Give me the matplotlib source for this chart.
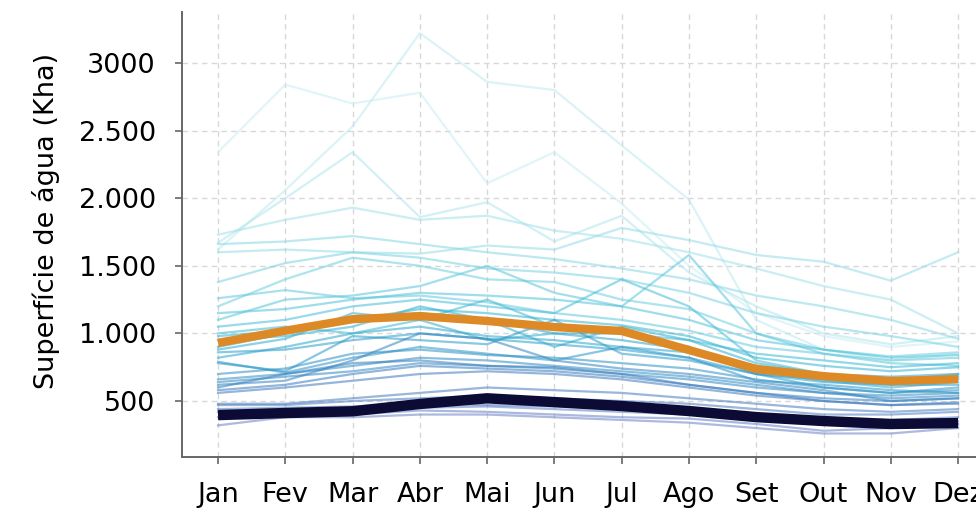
import matplotlib
matplotlib.use("Agg")
import matplotlib.pyplot as plt
from matplotlib.colors import LinearSegmentedColormap
import numpy as np

# --- DATA (Kha) ---
months = ["Jan", "Fev", "Mar", "Abr", "Mai", "Jun", "Jul", "Ago", "Set", "Out", "Nov", "Dez"]

# thin yearly lines, roughly ordered from the wettest/oldest to the driest/latest
years = [
    [2340, 2840, 2700, 2780, 2110, 2340, 1960, 1500, 1150, 980, 900, 940],
    [1620, 2060, 2530, 3220, 2860, 2800, 2390, 1990, 1100, 880, 800, 850],
    [1670, 2000, 2340, 1860, 1970, 1680, 1870, 1450, 1200, 1000, 920, 980],
    [1730, 1840, 1930, 1840, 1870, 1760, 1700, 1600, 1480, 1350, 1250, 1000],
    [1600, 1620, 1600, 1590, 1650, 1620, 1780, 1690, 1580, 1530, 1390, 1600],
    [1660, 1680, 1720, 1660, 1600, 1550, 1480, 1400, 1280, 1200, 1100, 960],
    [1380, 1520, 1600, 1560, 1480, 1450, 1400, 1300, 1150, 1050, 980, 900],
    [1200, 1400, 1560, 1500, 1400, 1380, 1250, 1180, 1000, 880, 830, 860],
    [1260, 1320, 1260, 1280, 1230, 1150, 1100, 1020, 900, 850, 800, 820],
    [1100, 1250, 1280, 1350, 1500, 1300, 1200, 1580, 1000, 850, 780, 760],
    [1150, 1180, 1250, 1300, 1280, 1250, 1200, 1100, 950, 880, 820, 840],
    [1050, 1100, 1200, 1250, 1200, 1150, 1400, 1200, 800, 700, 650, 700],
    [1000, 1050, 1000, 1100, 1250, 1050, 1000, 950, 850, 800, 750, 780],
    [980, 1020, 1100, 1180, 1150, 1100, 1060, 980, 820, 760, 720, 750],
    [950, 980, 1050, 1200, 1100, 900, 1050, 950, 780, 700, 650, 680],
    [880, 960, 1150, 1100, 950, 1000, 1000, 900, 720, 650, 600, 640],
    [820, 900, 1000, 1050, 980, 950, 900, 860, 760, 700, 680, 700],
    [900, 1000, 1100, 1150, 1100, 1000, 950, 880, 700, 640, 620, 660],
    [860, 880, 950, 1000, 960, 920, 880, 820, 700, 660, 620, 620],
    [780, 720, 980, 950, 920, 1100, 850, 800, 700, 600, 560, 600],
    [790, 710, 820, 900, 850, 800, 900, 820, 650, 620, 580, 560],
    [700, 740, 850, 880, 840, 820, 780, 740, 660, 600, 560, 580],
    [660, 700, 760, 820, 800, 760, 720, 680, 620, 560, 540, 560],
    [640, 680, 720, 780, 760, 740, 700, 660, 600, 560, 520, 540],
    [620, 650, 800, 1000, 960, 800, 740, 700, 640, 580, 500, 520],
    [600, 700, 780, 800, 760, 750, 700, 620, 560, 520, 500, 520],
    [580, 620, 700, 760, 740, 720, 680, 620, 560, 500, 470, 490],
    [560, 600, 650, 700, 720, 700, 660, 600, 540, 500, 470, 480],
    [480, 480, 520, 560, 600, 580, 560, 520, 480, 440, 420, 440],
    [470, 470, 500, 520, 540, 520, 500, 480, 440, 400, 400, 420],
    [440, 450, 460, 480, 470, 460, 440, 420, 400, 370, 360, 380],
    [420, 430, 450, 450, 460, 440, 420, 400, 370, 330, 320, 350],
    [380, 420, 400, 430, 420, 400, 380, 370, 330, 280, 300, 330],
    [320, 380, 380, 400, 400, 380, 360, 340, 300, 260, 260, 300],
]

media = [930, 1020, 1105, 1128, 1092, 1047, 1018, 877, 737, 684, 648, 662]
ultimo_ano = [396, 411, 424, 478, 520, 492, 463, 426, 381, 352, 330, 337]

y_ticks = [500, 1000, 1500, 2000, 2500, 3000]
y_tick_labels = ["500", "1.000", "1.500", "2.000", "2.500", "3000"]

# --- STYLE ---
plt.rcParams["font.family"] = ["DejaVu Sans"]
cmap = LinearSegmentedColormap.from_list(
    "agua", ["#c9eef3", "#6fd0e0", "#2fb4d2", "#2a96c8", "#3a78bc", "#6a80c6"])

fig = plt.figure(figsize=(9.76, 5.08), dpi=100)
ax = fig.add_axes([0.1865, 0.1004, 0.832, 0.876])

x = np.arange(len(months))
n = len(years)
for i, serie in enumerate(years):
    ax.plot(x, serie, color=cmap(i / (n - 1)), lw=1.6, alpha=0.55, zorder=2)

ax.plot(x, media, color="#dd8a26", lw=6, solid_capstyle="butt", zorder=4)
ax.plot(x, ultimo_ano, color="#0b0b36", lw=7.5, solid_capstyle="butt", zorder=5)

ax.set_xlim(-0.535, 11.535)
ax.set_ylim(86, 3377)
ax.set_xticks(x)
ax.set_xticklabels(months)
ax.set_yticks(y_ticks)
ax.set_yticklabels(y_tick_labels)

ax.grid(True, color="#d8d8d8", ls=(0, (4, 3)), lw=1)
ax.set_axisbelow(True)
for s in ["top", "right"]:
    ax.spines[s].set_visible(False)
for s in ["left", "bottom"]:
    ax.spines[s].set_color("#666666")
    ax.spines[s].set_linewidth(1.4)

ax.tick_params(axis="both", colors="#666666", length=5, width=1.2, labelsize=19.5,
               labelcolor="black")
ax.tick_params(axis="y", pad=14)
ax.tick_params(axis="x", pad=13)
ax.set_ylabel("Superfície de água (Kha)", fontsize=19.5)
ax.yaxis.set_label_coords(-0.15, 0.53)

fig.savefig("out.png", dpi=100)
